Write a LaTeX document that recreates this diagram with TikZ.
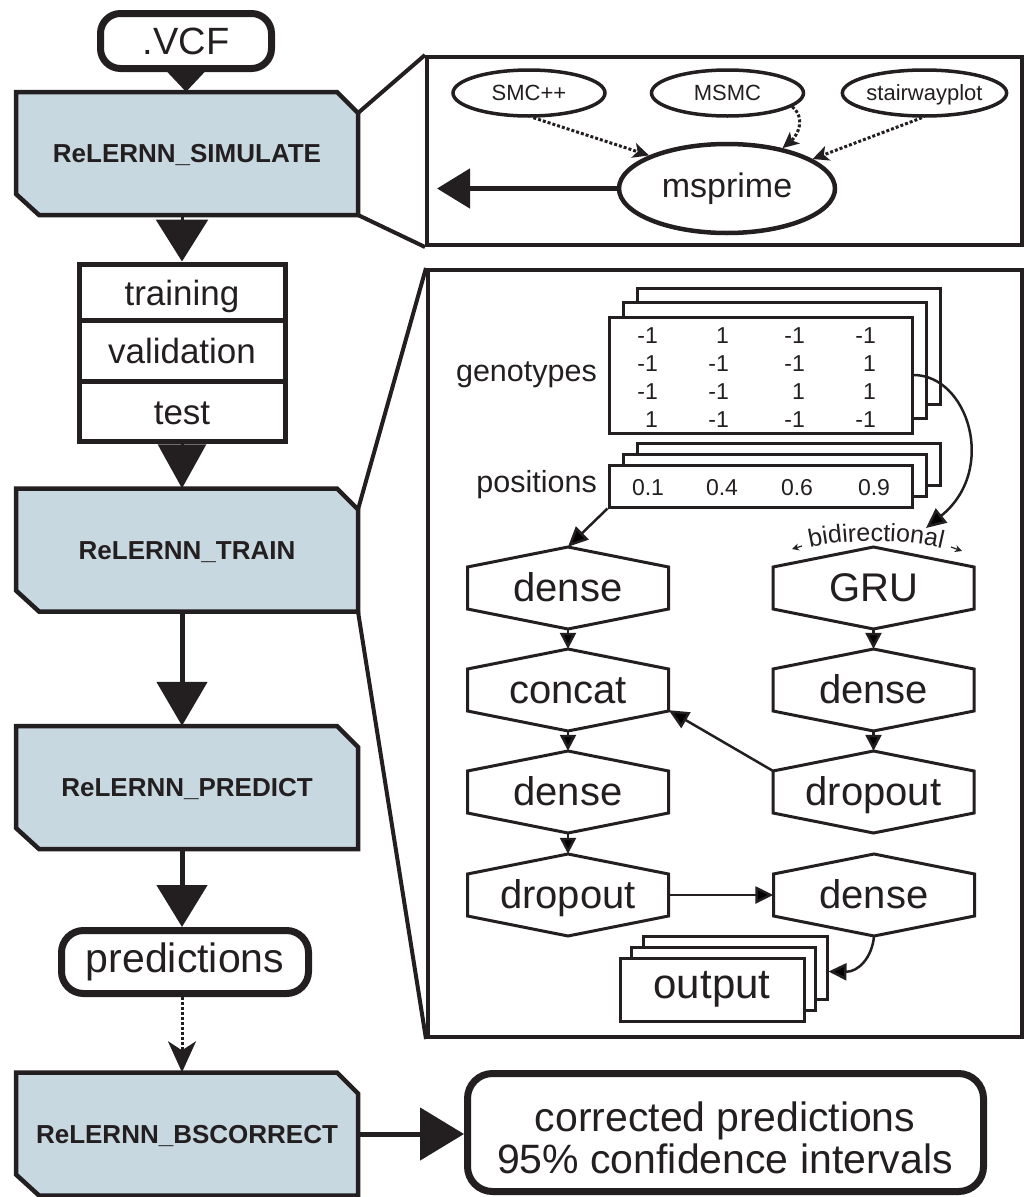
\documentclass[tikz,border=0pt]{standalone}
\usepackage{fontspec}
\setmainfont{Liberation Sans}
\usetikzlibrary{shapes.geometric,arrows.meta,decorations.text}
\definecolor{ink}{HTML}{231F20}
\definecolor{boxblue}{RGB}{200,216,224}
\newcommand\relbox[4]{%
  \draw[line width=4.5pt, draw=ink, fill=boxblue, line join=miter]
    (#2-171,#3-61.5) -- (#2+150,#3-61.5) -- (#2+171,#3-40.5) -- (#2+171,#3+61.5)
    -- (#2-148,#3+61.5) -- (#2-171,#3+40.5) -- cycle;
  \node[font=\fontsize{26}{26}\selectfont\bfseries, text height=18pt, text depth=0pt,
        minimum width=342pt, minimum height=123pt] (#1) at (#2,#3) {#4};}
\newcommand\hexbox[4]{%
  \draw[line width=3pt, draw=ink, fill=white, line join=miter]
    (#2,#3-41) -- (#2+100.5,#3-21) -- (#2+100.5,#3+21) -- (#2,#3+41)
    -- (#2-100.5,#3+21) -- (#2-100.5,#3-21) -- cycle;
  \node[font=\fontsize{40}{40}\selectfont, text height=28pt, text depth=2pt,
        minimum width=201pt, minimum height=82pt] (#1) at (#2,#3) {#4};}
\begin{document}
\begin{tikzpicture}[x=1pt,y=-1pt,
  every node/.append style={text=ink, inner sep=0pt},
  fnt/.style={font=\fontsize{#1}{#1}\selectfont},
  panel/.style={draw=ink, line width=4pt},
  zoomline/.style={draw=ink, line width=4pt},
  roundbox/.style={draw=ink, line width=7pt, fill=white, rounded corners=20pt},
  stackbox/.style={draw=ink, line width=5pt, fill=white, minimum width=206pt, fnt=35, text height=26pt, text depth=0pt},
  ell/.style={ellipse, draw=ink, line width=3.5pt, fill=white, minimum width=152pt, minimum height=46pt, fnt=22, text height=15pt, text depth=0pt},
  mat/.style={draw=ink, line width=3pt, fill=white},
  dig/.style={fnt=23, anchor=base east},
  pdig/.style={fnt=23, anchor=base},
  bigarrow/.style={draw=ink, line width=5pt, -{Triangle[length=#1,width=50pt]}},
  netarrow/.style={draw=ink, line width=2.5pt, -{Triangle[length=16pt,width=16pt]}},
  dotarrow/.style={draw=ink, line width=3pt, dotted, -{Stealth[length=16pt,width=15pt,inset=4pt]}}
]
\useasboundingbox (0,0) rectangle (1026,1197);

% ---------------- left column ----------------
\node[roundbox, minimum width=171pt, minimum height=55pt, fnt=38, text height=27pt, text depth=0pt] (vcf) at (186,41) {.VCF};

\relbox{sim}{187}{153.5}{ReLERNN\_SIMULATE}

\node[stackbox, minimum height=56pt] (trn) at (182,292) {training};
\node[stackbox, minimum height=61pt] (val) at (182,350.5) {validation};
\node[stackbox, minimum height=60pt] (tst) at (182,411) {test};

\relbox{train}{187}{550}{ReLERNN\_TRAIN}
\relbox{pred}{187}{787.5}{ReLERNN\_PREDICT}

\node[roundbox, rounded corners=22pt, minimum width=247pt, minimum height=63pt, fnt=41, text height=20pt, text depth=0pt] (preds) at (185,962) {predictions};

\relbox{bsc}{187}{1134}{ReLERNN\_BSCORRECT}

\node[roundbox, rounded corners=25pt, minimum width=516pt, minimum height=118pt] (corr) at (725.5,1132.5) {};
\node[fnt=41, anchor=base] (corr1) at (725,1131) {corrected predictions};
\node[fnt=41, anchor=base] (corr2) at (725,1173) {95\% confidence intervals};

% left column arrows
\draw[draw=ink, line width=3pt, -{Triangle[length=20pt,width=37pt]}] (vcf.south) -- (vcf.south |- sim.north);
\draw[draw=ink, line width=3pt, -{Triangle[length=42pt,width=52pt]}] (sim.south -| trn.north) -- (trn.north);
\draw[draw=ink, line width=3pt, -{Triangle[length=44pt,width=48pt]}] (tst.south) -- (tst.south |- train.north);
\draw[bigarrow=44pt] (train.south -| tst.south) -- (tst.south |- pred.north);
\draw[bigarrow=42pt] (pred.south -| tst.south) -- (tst.south |- preds.north);
\draw[draw=ink, line width=3pt, dotted, -{Stealth[length=31pt,width=28pt,inset=9pt]}] (preds.south -| tst.south) -- (tst.south |- bsc.north);
\draw[draw=ink, line width=5pt, -{Triangle[length=44pt,width=52pt]}] (bsc.east) -- (bsc.east -| corr.west);

% ---------------- panel 1 ----------------
\node[panel, minimum width=595pt, minimum height=188pt] (p1) at (724.5,151) {};
\coordinate (simTR) at (358,113);
\coordinate (simBR) at (358,215);
\draw[zoomline] (simTR) -- (p1.north west);
\draw[zoomline] (simBR) -- (p1.south west);

\node[ell] (smc) at (529,93) {SMC++};
\node[ell] (msmc) at (727.5,93) {MSMC};
\node[ell] (stair) at (924.5,93) {stairwayplot};
\node[ell, line width=4.5pt, minimum width=216pt, minimum height=89pt, fnt=34, text height=17pt] (msp) at (727,188.5) {msprime};

\coordinate (simIn) at (437,188.5);
\draw[draw=ink, line width=5pt, -{Triangle[length=33pt,width=39pt]}] (msp.west) -- (simIn);
\draw[dotarrow] (smc.-80) -- (msp.157);
\draw[dotarrow] (msmc.-12) .. controls (806,118) and (798,135) .. (msp.36);
\draw[dotarrow] (stair.-96) -- (msp.19);

% ---------------- panel 2 ----------------
\node[panel, minimum width=594pt, minimum height=767pt] (p2) at (725,653.5) {};
\coordinate (trTR) at (358,509.5);
\coordinate (trBR) at (358,611.5);
\draw[zoomline] (trTR) -- (p2.north west);
\draw[zoomline] (trBR) -- (p2.south west);

% genotype stack
\node[mat, minimum width=303pt, minimum height=116pt] (genB2) at (788.5,346) {};
\node[mat, minimum width=303pt, minimum height=116pt] (genB1) at (774.5,360.5) {};
\node[mat, minimum width=303pt, minimum height=116pt] (genF) at (760.5,375) {};
\node[fnt=30.5, anchor=base east] (genlab) at (597,381) {genotypes};

\node[dig] (m11) at (658,343) {-1}; \node[dig] (m12) at (729,343) {1};
\node[dig] (m13) at (805,343) {-1}; \node[dig] (m14) at (876,343) {-1};
\node[dig] (m21) at (658,371) {-1}; \node[dig] (m22) at (729,371) {-1};
\node[dig] (m23) at (805,371) {-1}; \node[dig] (m24) at (876,371) {1};
\node[dig] (m31) at (658,399) {-1}; \node[dig] (m32) at (729,399) {-1};
\node[dig] (m33) at (805,399) {1};  \node[dig] (m34) at (876,399) {1};
\node[dig] (m41) at (658,427) {1};  \node[dig] (m42) at (729,427) {-1};
\node[dig] (m43) at (805,427) {-1}; \node[dig] (m44) at (876,427) {-1};

% positions stack
\node[mat, minimum width=303pt, minimum height=42pt] (posB2) at (788.5,464) {};
\node[mat, minimum width=303pt, minimum height=42pt] (posB1) at (774.5,475) {};
\node[mat, minimum width=303pt, minimum height=42pt] (posF) at (760.5,486) {};
\node[fnt=30.5, anchor=base east] (poslab) at (597,492) {positions};
\node[pdig] (q1) at (648,495) {0.1};
\node[pdig] (q2) at (722,495) {0.4};
\node[pdig] (q3) at (797,495) {0.6};
\node[pdig] (q4) at (874,495) {0.9};

% network
\hexbox{dA}{568}{588}{dense}
\hexbox{cat}{568}{690}{concat}
\hexbox{dB}{568}{792}{dense}
\hexbox{drA}{568}{895}{dropout}
\hexbox{gru}{873.5}{588}{GRU}
\hexbox{dC}{873.5}{690}{dense}
\hexbox{drB}{873.5}{792}{dropout}
\hexbox{dOut}{874}{895}{dense}

% bidirectional label
\coordinate (bidS) at (800,550);
\coordinate (bidE) at (952,551);
\path[decorate, decoration={text along path, text align=center, text color=ink,
      text={|\fontsize{25}{25}\selectfont|bidirectional}}]
  (bidS) .. controls (842,538) and (908,538) .. (bidE);
\coordinate (bLa) at (802,546); \coordinate (bLb) at (792,549);
\coordinate (bRa) at (951,547); \coordinate (bRb) at (962,551);
\draw[draw=ink, line width=1.2pt, -{Stealth[length=7pt,width=7pt]}] (bLa) -- (bLb);
\draw[draw=ink, line width=1.2pt, -{Stealth[length=7pt,width=7pt]}] (bRa) -- (bRb);

% output stack
\node[mat, minimum width=184pt, minimum height=63pt] (outB2) at (735,967.5) {};
\node[mat, minimum width=184pt, minimum height=63pt] (outB1) at (723.5,978.5) {};
\node[mat, minimum width=184pt, minimum height=63pt, fnt=42, text height=17pt, text depth=0pt] (outF) at (712,989.5) {output};

% network arrows
\coordinate (gruIn) at (926,528);
\draw[netarrow, -{Triangle[length=20pt,width=18pt]}] (posF.south west) -- (dA.north);
\draw[netarrow, -{Triangle[length=20pt,width=18pt]}] (genF.east) .. controls (968,375) and (998,470) .. (gruIn);
\draw[netarrow] (dA.south) -- (cat.north);
\draw[netarrow] (cat.south) -- (dB.north);
\draw[netarrow] (dB.south) -- (drA.north);
\draw[netarrow] (gru.south) -- (dC.north);
\draw[netarrow] (dC.south) -- (drB.north);
\draw[netarrow, -{Triangle[length=20pt,width=18pt]}] ([yshift=-20pt]drB.north west) -- ([yshift=21pt]cat.south east);
\draw[netarrow, -{Triangle[length=18pt,width=17pt]}] (drA.east) -- (dOut.west);
\draw[netarrow, -{Triangle[length=18pt,width=17pt]}] (dOut.south) .. controls (872,958) and (858,972) .. ([yshift=-4pt]outB2.east);
\end{tikzpicture}
\end{document}
